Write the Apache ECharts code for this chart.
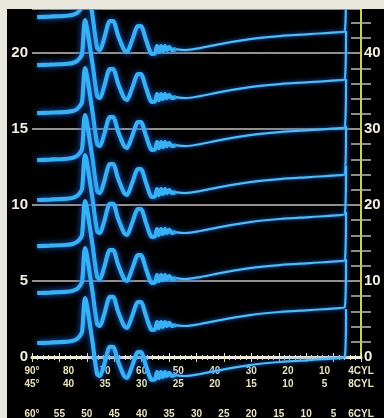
<!DOCTYPE html>
<html>
<head>
<meta charset="utf-8">
<script src="https://cdn.jsdelivr.net/npm/echarts@6/dist/echarts.min.js"></script>
<style>
  html, body { margin: 0; padding: 0; background: #e9e7de; }
  #scope {
    position: absolute;
    left: 7px;
    top: 9px;
    width: 377px;
    height: 409px;
    background: #000;
  }
</style>
</head>
<body>
<div id="scope"></div>
<script>
// levels (left scale) where each cylinder's trace starts, top to bottom
const baselines = [22.37, 19.21, 16.05, 12.96, 10.33, 7.30, 4.21, 0.92];

// one trace: [degrees on 4CYL scale, drop below its start level]
// firing line, spark line and coil oscillations
const headShape = [
  [88.6, 0], [85.1, -0.03], [81.0, -0.07], [79.0, -0.13], [77.7, -0.26],
  [76.9, -0.46], [76.3, -0.72], [75.5, -2.96], [73.6, -0.33], [72.2, 2.04],
  [71.4, 2.17], [70.3, 1.45], [68.7, 0.26], [67.8, 0.26], [66.5, 1.18],
  [64.8, 2.17], [64.0, 2.30], [62.6, 1.51], [61.0, 0.59], [60.2, 0.59],
  [58.8, 1.51], [57.2, 2.43], [56.3, 2.37], [55.8, 1.91], [55.3, 2.30],
  [54.7, 1.91], [54.2, 2.24], [53.6, 1.91], [53.1, 2.17], [52.5, 1.97],
  [51.7, 2.17], [50.6, 2.11]
];
// dwell section up to the points opening
const tailShape = [
  [50.6, 2.11], [48.1, 2.17], [44.0, 2.04], [38.6, 1.78], [30.4, 1.45],
  [22.2, 1.25], [13.9, 1.12], [5.7, 0.99], [4.4, 0.92], [4.1, -2.24]
];

// scale labels
const leftTicks = [1, 2, 3, 4, 6, 7, 8, 9, 11, 12, 13, 14, 16, 17, 18, 19, 21, 22];
const rightTicks = [2, 4, 6, 8, 12, 14, 16, 18, 22, 24, 26, 28, 32, 34, 36, 38, 42, 44];
const cyl4End = ["90°", "4CYL"];
const cyl8End = ["45°", "8CYL"];
const cyl6End = ["60°", "6CYL"];

const labelFont = { fontFamily: "Liberation Sans", fontWeight: "bold" };
const scaleColor = "#ebe4bd";
const yellow = "#cfd04c";

function endLabel(ends, max) {
  return function (v) {
    if (v === max) return ends[0];
    if (v === 0) return ends[1];
    return String(v);
  };
}

const series = [];
baselines.forEach(function (b, i) {
  series.push({
    name: "head" + i,
    type: "line",
    xAxisIndex: 0,
    yAxisIndex: 0,
    clip: false,
    symbol: "none",
    smooth: 0.25,
    data: headShape.map(function (p) { return [p[0], b - p[1]]; }),
    lineStyle: { color: "#38b0f4", width: 4.2, shadowColor: "#1262d6", shadowBlur: 6 },
  });
  series.push({
    name: "tail" + i,
    type: "line",
    xAxisIndex: 0,
    yAxisIndex: 0,
    clip: false,
    symbol: "none",
    smooth: 0.3,
    data: tailShape.map(function (p) { return [p[0], b - p[1]]; }),
    lineStyle: { color: "#4cbcf6", width: 2.2, shadowColor: "#1262d6", shadowBlur: 4 },
  });
});

const chart = echarts.init(document.getElementById("scope"));
chart.setOption({
  animation: false,
  backgroundColor: "#000",
  grid: { left: 25, right: 23, top: 0, bottom: 61, outerBoundsMode: "none", containLabel: false },
  xAxis: [
    {
      type: "value", min: 0, max: 90, interval: 10, inverse: true, position: "bottom",
      axisLine: { lineStyle: { color: "#f4f1ea", width: 3 } },
      axisTick: { show: false },
      splitLine: { show: false },
      axisLabel: Object.assign({ color: scaleColor, fontSize: 10, margin: 9,
        showMinLabel: true, showMaxLabel: true, formatter: endLabel(cyl4End, 90) }, labelFont),
    },
    {
      type: "value", min: 0, max: 45, interval: 5, inverse: true, position: "bottom", offset: 13,
      axisLine: { show: false }, axisTick: { show: false }, splitLine: { show: false },
      axisLabel: Object.assign({ color: scaleColor, fontSize: 10, margin: 9,
        showMinLabel: true, showMaxLabel: true, formatter: endLabel(cyl8End, 45) }, labelFont),
    },
    {
      type: "value", min: 0, max: 60, interval: 5, inverse: true, position: "bottom", offset: 41,
      axisLine: { lineStyle: { color: "#eeeadc", width: 1.5 } },
      axisTick: { length: 5, lineStyle: { color: "#e6df98", width: 1 } },
      minorTick: { show: true, splitNumber: 5, length: 3, lineStyle: { color: "#e6df98" } },
      splitLine: { show: false },
      axisLabel: { show: false },
    },
    {
      type: "value", min: 0, max: 60, interval: 5, inverse: true, position: "bottom", offset: 41,
      axisLine: { show: false },
      axisTick: { inside: true, length: 4, lineStyle: { color: "#eeeadc", width: 1 } },
      minorTick: { show: true, splitNumber: 5, length: 2, lineStyle: { color: "#eeeadc" } },
      splitLine: { show: false },
      axisLabel: Object.assign({ color: scaleColor, fontSize: 10, margin: 11,
        showMinLabel: true, showMaxLabel: true, formatter: endLabel(cyl6End, 60) }, labelFont),
    },
  ],
  yAxis: [
    {
      type: "value", min: 0, max: 22.9, interval: 5, position: "left",
      axisLine: { show: true, lineStyle: { color: yellow, width: 2 } },
      axisTick: { show: false },
      splitLine: { show: true, lineStyle: { color: "#c8c0bd", width: 1.5 } },
      axisLabel: Object.assign({ color: "#f3efe0", fontSize: 15, margin: 4,
        showMaxLabel: false }, labelFont),
    },
    {
      type: "value", min: 0, max: 22.9, interval: 1, position: "left", offset: 4,
      axisLine: { show: false },
      axisTick: { show: true, length: 10, customValues: leftTicks,
        lineStyle: { color: "#bdbab2", width: 1.5 } },
      splitLine: { show: false },
      axisLabel: { show: false },
    },
    {
      type: "value", min: 0, max: 45.8, interval: 10, position: "right",
      axisLine: { show: true, lineStyle: { color: yellow, width: 2 } },
      axisTick: { show: false },
      splitLine: { show: false },
      axisLabel: Object.assign({ color: "#f3efe0", fontSize: 15, margin: 3,
        showMaxLabel: false }, labelFont),
    },
    {
      type: "value", min: 0, max: 45.8, interval: 2, position: "right", offset: 2,
      axisLine: { show: false },
      axisTick: { show: true, length: 10, customValues: rightTicks,
        lineStyle: { color: "#bdbab2", width: 1.5 } },
      splitLine: { show: false },
      axisLabel: { show: false },
    },
  ],
  series: series,
});
</script>
</body>
</html>
